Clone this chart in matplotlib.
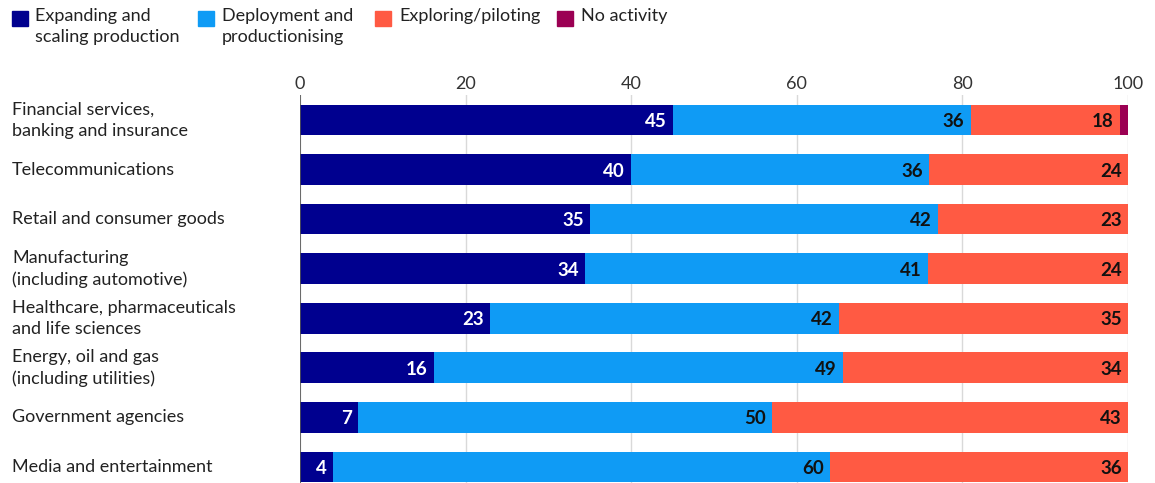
import matplotlib.pyplot as plt
import matplotlib as mpl
import matplotlib.transforms as mtransforms
import numpy as np
from matplotlib.patches import Rectangle

mpl.rcParams.update({"font.family": ["Lato", "DejaVu Sans"], "font.size": 12})

sectors = ["Financial services,\nbanking and insurance", "Telecommunications",
           "Retail and consumer goods", "Manufacturing\n(including automotive)",
           "Healthcare, pharmaceuticals\nand life sciences", "Energy, oil and gas\n(including utilities)",
           "Government agencies", "Media and entertainment"]
expanding = [45, 40, 35, 34.4, 22.9, 16.2, 7, 4]
deploying = [36, 36, 42, 41.4, 42.2, 49.4, 50, 60]
exploring = [18, 24, 23, 24.2, 34.9, 34.4, 43, 36]
no_activity = [1, 0, 0, 0, 0, 0, 0, 0]

series = [("Expanding and\nscaling production", expanding, "#00008f", "white"),
          ("Deployment and\nproductionising", deploying, "#0f9bf5", "#111111"),
          ("Exploring/piloting", exploring, "#ff5a43", "#111111"),
          ("No activity", no_activity, "#9b0053", None)]

W, H = 1155, 483
fig = plt.figure(figsize=(W / 100, H / 100), dpi=100)
ax = fig.add_axes([300 / W, 0, (1128 - 300) / W, (H - 95) / H])

y = np.arange(len(sectors))
left = np.zeros(len(sectors))
for name, vals, col, tcol in series:
    vals = np.array(vals, dtype=float)
    ax.barh(y, vals, left=left, height=0.62, color=col, zorder=3)
    if tcol is not None:
        for yi, l, v in zip(y, left, vals):
            if v > 0:
                ax.text(l + v - 0.75, yi + 0.03, f"{v:.0f}", ha="right", va="center", color=tcol,
                        fontsize=13.5, fontweight="bold", zorder=4)
    left += vals

ax.set_xlim(0, 100)
ax.set_ylim(7.323, -0.504)
ax.set_xticks([0, 20, 40, 60, 80, 100])
ax.xaxis.tick_top()
ax.tick_params(axis="x", length=0, pad=2, labelsize=13, labelcolor="#333333")
ax.set_yticks([])
ax.grid(axis="x", color="#d9d9d9", lw=1, zorder=0)
for s in ax.spines.values():
    s.set_visible(False)
ax.axvline(0, color="#555555", lw=1.2, zorder=5)

# sector names, left-aligned at the figure edge
lab_tr = mtransforms.blended_transform_factory(fig.transFigure, ax.transData)
for yi, name in zip(y, sectors):
    fig.text(12 / W, yi, name, transform=lab_tr, ha="left", va="center",
             fontsize=13, color="#222222", linespacing=1.4)

# legend across the top
legend_pos = [(12, 35), (198, 222), (375, 399), (557, 581)]
for (name, _, col, _), (sx, tx) in zip(series, legend_pos):
    fig.patches.append(Rectangle((sx / W, 1 - 26 / H), 16 / W, 15 / H, color=col,
                                 transform=fig.transFigure, figure=fig))
    fig.text(tx / W, 1 - 8 / H, name, ha="left", va="top", fontsize=13,
             color="#222222", linespacing=1.4)

fig.savefig("out.png", dpi=100)
